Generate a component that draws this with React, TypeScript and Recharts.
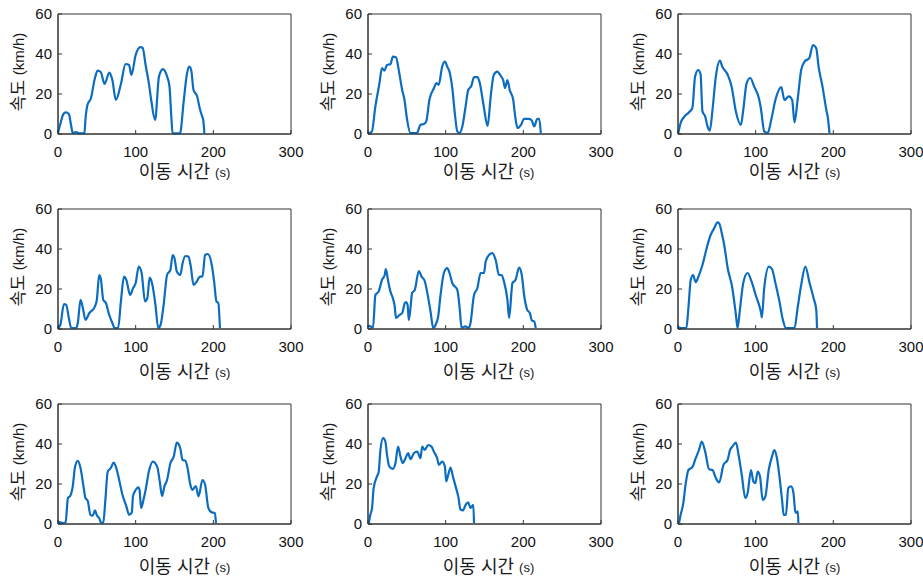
import { LineChart, Line, XAxis, YAxis, ReferenceArea } from "recharts";

const xTicks = [0, 100, 200, 300];
const yTicks = [0, 20, 40, 60];
const xTitle = "이동 시간";
const xUnit = "(s)";
const yTitle = "속도";
const yUnit = "(km/h)";

// [time s, speed km/h]
const run1: [number, number][] = [
  [0, 0.5], [3, 5], [7, 10], [10, 10.8], [14, 10], [17, 4], [19, 0.5], [23, 1], [28, 0.3], [34, 0.3],
  [35.5, 8], [38, 14.6], [42.5, 18], [47, 27], [51, 31.7], [55, 31], [60, 25], [66, 30.7], [70, 27],
  [74.5, 17], [81, 25], [87, 35], [91.5, 34.5], [94.5, 29.5], [100, 39.5], [106, 43.4], [109, 43],
  [113, 34], [117, 25.4], [120, 17], [125, 7], [130, 28.7], [135, 32.4], [140.5, 28.7], [143.5, 24],
  [146, 8], [147.5, 0.3], [152, 0.3], [157, 0.3], [162, 17], [166, 30], [169, 33.7], [171.5, 32],
  [174.5, 22], [179, 19], [183, 12], [185.5, 9], [187, 7], [188.5, 0.3],
];

const run2: [number, number][] = [
  [0, 0.5], [1, 0.5], [5, 1.3], [9.5, 13.8], [14.6, 25], [18, 33], [21, 31.7], [24.5, 34.5], [29, 35],
  [32, 38.7], [36, 38.4], [39.6, 32], [44, 22], [47, 17], [50, 8], [54.7, 0.5], [63, 0.5], [67.6, 4.6],
  [72, 5], [75, 6.3], [79, 17], [85, 23], [88, 25.4], [91, 24.6], [95.5, 33.7], [99, 36.2], [102, 33.7],
  [105, 31], [108.5, 23], [112, 9.6], [115, 1.3], [118, 0.5], [121, 3], [125.7, 13.8], [129, 22],
  [133, 24], [136.5, 28.4], [141, 28.4], [144, 25.4], [149, 13.8], [154, 4], [158, 18.8], [162, 29.6],
  [166.5, 31.2], [171, 29], [174, 27], [176.5, 23], [179.5, 27], [182.5, 22], [187, 17], [189.5, 8.8],
  [192.5, 3], [197, 4.6], [201, 7.6], [206.5, 7.6], [210.5, 7], [214, 3.8], [218, 7.6], [220.4, 7.6],
  [222.5, 0.5],
];

const run3: [number, number][] = [
  [0.4, 0.5], [3.4, 5.5], [7.8, 8.5], [14, 10.8], [18.5, 13], [22, 28.7], [26, 32], [29, 30],
  [31.5, 11.3], [35, 8.8], [38, 3.8], [41, 1.7], [44.4, 12], [48.7, 28.7], [54, 36.7], [57, 33.7],
  [64, 29.6], [69, 23.8], [74.5, 11.3], [81, 4.6], [84, 12], [88.4, 25.4], [93, 28], [98, 23.8],
  [104.7, 17], [107, 12], [111, 1.3], [115.5, 0.5], [120, 7], [125.4, 17], [133, 23.4], [137, 17],
  [142.7, 18.8], [147, 17], [150, 5.8], [154, 17], [158.6, 32], [163, 36.2], [169, 37.9], [173.7, 44.5],
  [178, 42.9], [181, 33.7], [186, 23.8], [191, 12], [193, 8], [195, 0.5],
];

const run4: [number, number][] = [
  [0, 0.5], [3, 2], [7.7, 12.5], [10.6, 12], [14, 5.5], [17, 0.5], [23.4, 0.5], [25.5, 3], [29, 14.6],
  [32, 10.5], [35.3, 4.6], [40.4, 8], [47, 10.8], [50, 14.6], [53, 27], [55, 25.4], [58.3, 14.6],
  [61.7, 13], [66, 7], [70, 3], [73, 0.5], [77.4, 0.5], [81, 13.8], [85, 26.2], [88, 24.6], [92.8, 17],
  [96.6, 20.4], [100, 23], [104, 31.2], [107.7, 28], [112, 13.8], [115, 15.4], [118, 25.7], [121, 23],
  [125.5, 12], [129, 0.5], [132, 2], [136, 12], [140.4, 27], [144.7, 29.6], [147.7, 37], [150, 35.4],
  [153, 28.7], [157.4, 27], [160.4, 32.9], [164, 36.5], [168, 36.2], [171, 31.2], [174.5, 22],
  [178, 23.4], [183, 26.2], [186, 26.2], [189.4, 37], [192.8, 37.5], [198, 32], [201, 23.8], [204, 13.8],
  [206.4, 13], [208.5, 0.5],
];

const run5: [number, number][] = [
  [0, 1.7], [3, 1.3], [6.5, 0.8], [9.5, 17], [13.8, 18.8], [18, 24.6], [21.5, 27], [23, 30], [26, 23.8],
  [28.8, 18.8], [32, 15.4], [34.4, 11.3], [36, 5.5], [40.5, 7], [44, 8], [47.4, 13], [49, 13.5], [51, 12],
  [52.5, 4.6], [54.7, 10.5], [56.8, 18], [60.3, 19.6], [65.4, 29], [69, 26.2], [73, 24], [76, 18.8],
  [80.5, 8.8], [84, 0.5], [87, 2], [90.4, 6.3], [93.4, 17], [97.7, 28], [102, 30.4], [105, 28],
  [108.5, 23], [115, 19.6], [118, 10.5], [120.5, 0.5], [125, 1.3], [130, 0.5], [132, 3], [136.5, 17],
  [140.8, 20.4], [145, 28], [149.4, 28], [151.5, 33.7], [155.8, 37], [160, 37.9], [164.4, 34.5],
  [168.7, 27], [172, 27], [175, 23.8], [179.5, 14.6], [181.7, 5.5], [186, 23], [190, 24.6], [194.6, 30.7],
  [198, 27], [201, 17], [205, 9.6], [208.4, 8], [211, 4.2], [214, 3.8], [216, 0.5],
];

const run6: [number, number][] = [
  [0, 1], [4.3, 0.5], [10.8, 0.5], [13.4, 10.5], [16.4, 24.6], [19.4, 27], [22.8, 23.4], [26.3, 26.2],
  [31.5, 32], [38, 42], [42, 47], [46.5, 50.3], [51, 53.3], [53, 52.8], [57.3, 46.2], [59.5, 42],
  [64, 30.4], [70, 20.4], [74.6, 7], [76.7, 0.5], [79.7, 9.6], [84, 23], [89.6, 28], [95, 23.4],
  [100, 17], [107, 8], [108, 5.8], [111, 20.4], [117, 31.2], [121, 30], [125.4, 23], [130.6, 13.8],
  [135, 4.6], [139, 0.5], [150, 0.5], [154, 10.5], [158.6, 22], [164, 31.2], [169.4, 23], [174.6, 15.4],
  [178, 9.6], [179, 0.5],
];

const run7: [number, number][] = [
  [0, 1.3], [3, 0.8], [7.2, 0.5], [9.8, 0.8], [12.8, 13], [15.7, 14], [19, 18.8], [22, 28.7], [25.5, 31.6],
  [29, 28], [32.8, 18.8], [35.3, 13], [38.3, 11.6], [41.7, 4.6], [44.7, 4.2], [47.7, 6.8], [50.2, 4.2],
  [53, 3], [55.7, 0.5], [58.3, 0.8], [61, 12], [64, 26.2], [68, 28], [71.5, 30.7], [74.5, 28.7],
  [78, 23.4], [83, 14.6], [88, 8.8], [91.5, 4.6], [95, 5.8], [96.6, 14], [100, 17], [103.4, 18.3],
  [105, 17], [107, 8], [110, 12], [112.8, 17], [117, 26.2], [122, 31.2], [127.7, 28.7], [131, 21.3],
  [134, 14], [137, 18.8], [140.4, 22], [144.7, 30.4], [149, 33.7], [153, 40.7], [157.4, 37.9], [160.4, 32],
  [163.8, 31.7], [166.8, 28], [170, 20.4], [173, 17], [177.4, 19], [181, 13.8], [186, 22], [189.4, 19.6],
  [193.6, 8], [198, 5.8], [202, 5.5], [203.4, 0.5],
];

const run8: [number, number][] = [
  [1, 0.5], [3, 4.6], [5.2, 8], [7.3, 18], [11.6, 23.8], [13.8, 26.2], [16, 37], [19.4, 42.9], [22.4, 41.2],
  [24.5, 34.5], [27.5, 28.7], [32, 27.6], [35.3, 30.4], [38.7, 38.7], [41.8, 33.7], [44.8, 30.4],
  [48.2, 32.9], [51.7, 35.4], [54.7, 32.4], [59, 35.4], [63.3, 36.2], [67.6, 32.9], [69.7, 38.7], [73, 37],
  [77.5, 39.5], [81.8, 38.7], [84.8, 36.2], [89, 32.9], [91.3, 29.6], [95.6, 31.2], [99, 28.7],
  [100.7, 21.3], [103.3, 24.6], [106.3, 28.2], [109.3, 23.8], [112.8, 18.8], [116.2, 13.8], [119.2, 7.1],
  [122.3, 6.8], [125.7, 9.6], [129, 10.8], [132, 8], [135.6, 9.6], [136.5, 0.5],
];

const run9: [number, number][] = [
  [1.3, 0.5], [3.4, 4.6], [6.5, 9.6], [10, 20.4], [13.4, 27], [18.5, 28.4], [22.8, 32.9], [27, 37],
  [30.6, 41.2], [35, 36.2], [40, 27.4], [44.4, 27], [48.7, 23], [53, 20.8], [58.6, 29.6], [63.8, 32],
  [67, 37], [70, 38.7], [74.6, 40.7], [78, 34.5], [82.3, 24], [86.6, 13], [89.6, 15.4], [94, 27],
  [97, 21.3], [99.6, 20.4], [102.6, 26.2], [105.6, 23.8], [109, 12], [112.5, 13.8], [116.8, 27],
  [121, 33.7], [124, 37], [127, 33.7], [130.6, 23.8], [134, 12], [136, 4.6], [139, 4.6], [142, 18],
  [145.7, 18.8], [148.7, 15.4], [151, 6.3], [153, 5.5], [154.3, 6.3], [155, 0.5],
];

const runs = [run1, run2, run3, run4, run5, run6, run7, run8, run9];

const LINE = "#0b6cc0";
const AXIS = "#333";
const FONT = "'Liberation Sans', Arial, 'Noto Sans CJK KR', sans-serif";
const colTitleDx = [10, 4, 0];
const rowTitleDy = [38, 43, 43];

function XTitle(props: any) {
  const { viewBox, dx, dy } = props;
  const cx = viewBox.x + viewBox.width / 2 + dx;
  return (
    <text x={cx} y={viewBox.y + dy} textAnchor="middle" dominantBaseline="central" fill="#1a1a1a" fontFamily={FONT}>
      <tspan fontSize={18}>{xTitle} </tspan>
      <tspan fontSize={13}>{xUnit}</tspan>
    </text>
  );
}

function YTitle(props: any) {
  const { viewBox } = props;
  const cx = viewBox.x + 18;
  const cy = viewBox.y + viewBox.height / 2 - 2;
  return (
    <text
      x={cx}
      y={cy}
      transform={`rotate(-90 ${cx} ${cy})`}
      textAnchor="middle"
      dominantBaseline="central"
      fill="#1a1a1a"
      fontFamily={FONT}
    >
      <tspan fontSize={17}>{yTitle} </tspan>
      <tspan fontSize={15}>{yUnit}</tspan>
    </text>
  );
}

function Panel({ run, idx }: { run: [number, number][]; idx: number }) {
  const col = idx % 3;
  const row = Math.floor(idx / 3);
  const data = run.map(([t, v]) => ({ t, v }));
  const tick = { fontSize: 15, fill: "#111", fontFamily: FONT };
  return (
    <div style={{ position: "absolute", left: col * 310, top: row * 195 }}>
      <LineChart width={310} height={195} data={data} margin={{ top: 14, right: 19, bottom: 16, left: 0 }}>
        <XAxis
          dataKey="t"
          type="number"
          domain={[0, 300]}
          ticks={xTicks}
          interval={0}
          height={45}
          tickSize={-4}
          tickMargin={16}
          stroke={AXIS}
          tick={tick}
          label={{ content: (p: any) => <XTitle {...p} dx={colTitleDx[col]} dy={rowTitleDy[row]} /> }}
        />
        <YAxis
          type="number"
          domain={[0, 60]}
          ticks={yTicks}
          interval={0}
          width={58}
          tickSize={-4}
          tickMargin={10}
          stroke={AXIS}
          tick={tick}
          label={{ content: (p: any) => <YTitle {...p} /> }}
        />
        <ReferenceArea x1={0} x2={300} y1={0} y2={60} fill="none" stroke={AXIS} strokeWidth={1} />
        <Line
          dataKey="v"
          type="monotone"
          stroke={LINE}
          strokeWidth={2.2}
          dot={false}
          activeDot={false}
          isAnimationActive={false}
        />
      </LineChart>
    </div>
  );
}

export default function App() {
  return (
    <div style={{ position: "absolute", left: 0, top: 0, width: 923, height: 585, background: "#fff" }}>
      {runs.map((run, i) => (
        <Panel key={i} run={run} idx={i} />
      ))}
    </div>
  );
}
